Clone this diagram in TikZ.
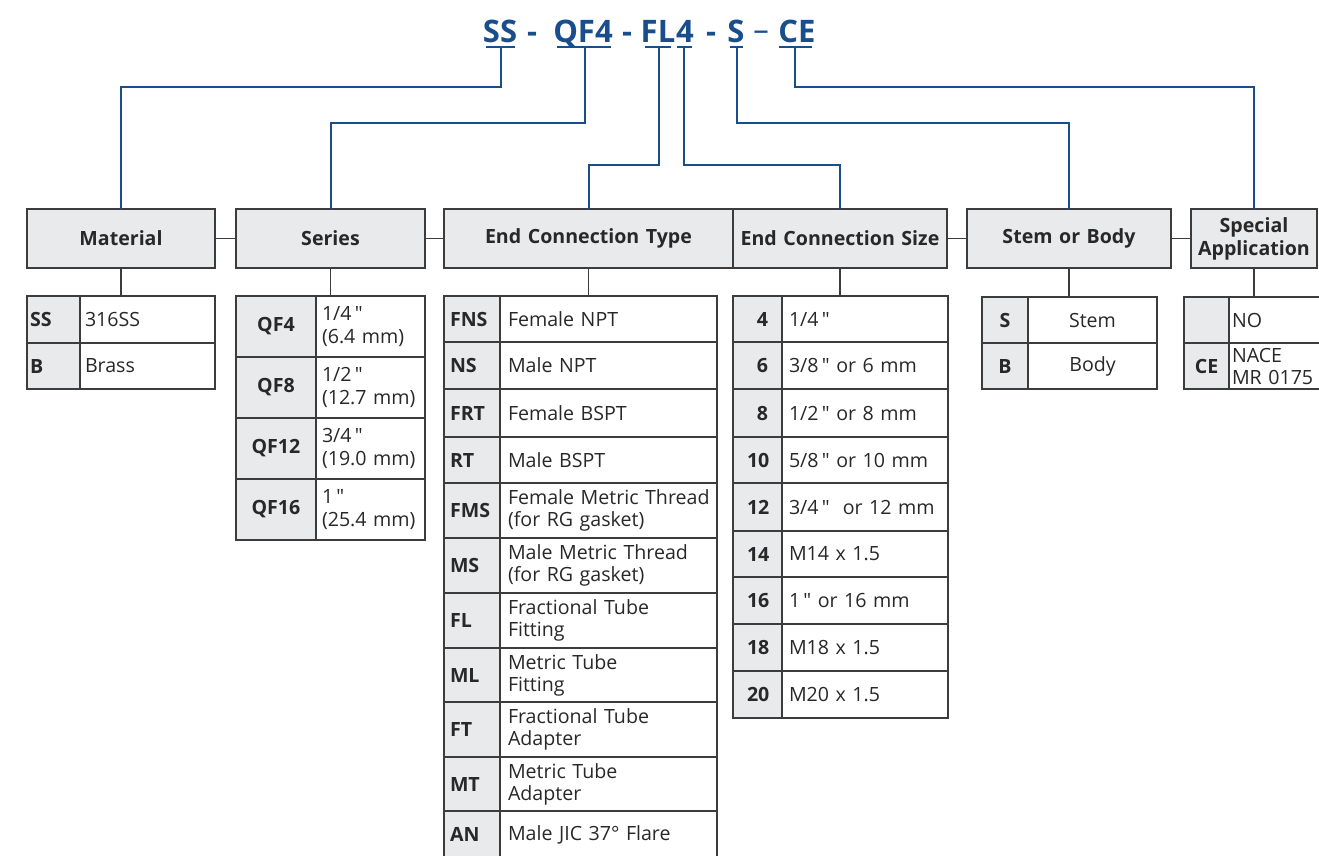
\documentclass[tikz,border=0pt]{standalone}
\usepackage{fontspec}
\setmainfont{Open Sans}[Ligatures=TeXOff]
\definecolor{titleblue}{RGB}{24,78,142}
\definecolor{boxline}{RGB}{60,60,60}
\definecolor{hdrfill}{RGB}{233,234,236}
\definecolor{txt}{RGB}{40,40,40}
\newcommand\cell[9]{%
  \pgfmathsetmacro\cw{#4-#2}\pgfmathsetmacro\ch{#5-#3}\pgfmathsetmacro\tw{#4-#2-2*#8}%
  \node[#6, minimum width=\cw pt, minimum height=\ch pt, text width=\tw pt,
        inner xsep=#8pt, inner ysep=0pt, align=#7, anchor=north west] (#1) at (#2,#3) {#9};}
\newcommand\qu{\,"}
\tikzset{
  hdr/.style={draw=boxline, fill=hdrfill, line width=1.3pt, outer sep=0pt, text=txt,
              font=\bfseries\fontsize{19.6}{23}\selectfont},
  code/.style={draw=boxline, fill=hdrfill, line width=1.3pt, outer sep=0pt, text=txt,
              font=\bfseries\fontsize{19.6}{22}\selectfont},
  desc/.style={draw=boxline, fill=white, line width=1.3pt, outer sep=0pt, text=txt,
              font=\fontsize{19.6}{22}\selectfont},
  ser/.style={desc, font=\fontsize{19.6}{23.5}\selectfont},
  ttl/.style={text=titleblue, font=\bfseries\fontsize{31}{34}\selectfont, inner sep=0pt, anchor=base},
  uline/.style={draw=titleblue, line width=2.6pt},
  blueline/.style={draw=titleblue, line width=2pt},
  grayline/.style={draw=boxline, line width=1.3pt},
}
\begin{document}
\begin{tikzpicture}[x=1pt,y=-1pt]
\useasboundingbox (0,0) rectangle (1319,855);
\clip (0,0) rectangle (1319,855);
\fill[white] (0,0) rectangle (1319,855);

% ---- title ----
\node[ttl] (tSS) at (500,42) {SS};
\node[ttl] (td1) at (532,42) {-};
\node[ttl] (tQF) at (583,42) {QF4};
\node[ttl] (td2) at (627,42) {-};
\node[ttl] (tFL) at (658,42) {FL};
\node[ttl] (t4) at (685,42) {4};
\node[ttl] (td3) at (711,42) {-};
\node[ttl] (tS) at (736,42) {S};
\node[ttl, font=\fontsize{31}{34}\selectfont] (td4) at (761,40) {–};
\node[ttl] (tCE) at (797,42) {CE};

\draw[uline] (486,47) -- (515,47);
\draw[uline] (557,47) -- (611,47);
\draw[uline] (645,47) -- (671,47);
\draw[uline] (677,47) -- (692,47);
\draw[uline] (730,47) -- (743,47);
\draw[uline] (779,47) -- (812,47);
\coordinate (uSS) at (501,47);
\coordinate (uQF) at (585,47);
\coordinate (uFL) at (659,47);
\coordinate (u4) at (684,47);
\coordinate (uS) at (737,47);
\coordinate (uCE) at (795,47);

% ---- headers ----
\cell{hmat}{27}{209}{215}{268}{hdr}{center}{2}{Material}
\cell{hser}{236}{209}{425}{268}{hdr}{center}{2}{Series}
\cell{hect}{444}{209}{733}{268}{hdr}{center}{2}{End Connection Type}
\cell{hecs}{733}{209}{947}{268}{hdr}{center}{2}{End Connection Size}
\cell{hstem}{967}{209}{1171}{268}{hdr}{center}{2}{Stem or Body}
\cell{hspec}{1191}{209}{1317}{268}{hdr}{center}{2}{Special\\Application}

% title connectors
\draw[blueline] (uSS) -- (uSS |- 0,87) -| (hmat.north);
\draw[blueline] (uQF) -- (uQF |- 0,123) -| (hser.north);
\draw[blueline] (uFL) -- (uFL |- 0,165) -| (hect.north);
\draw[blueline] (u4) -- (u4 |- 0,165) -| (hecs.north);
\draw[blueline] (uS) -- (uS |- 0,123) -| (hstem.north);
\draw[blueline] (uCE) -- (uCE |- 0,87) -| (hspec.north);

% header links
\draw[grayline] (hmat.east) -- (hser.west);
\draw[grayline] (hser.east) -- (hect.west);
\draw[grayline] (hecs.east) -- (hstem.west);
\draw[grayline] (hstem.east) -- (hspec.west);

% ---- Material ----
\cell{m1c}{27}{296}{80}{343}{code}{left}{3}{SS}
\cell{m1d}{80}{296}{215}{343}{desc}{left}{5}{316SS}
\cell{m2c}{27}{343}{80}{389}{code}{left}{3}{B}
\cell{m2d}{80}{343}{215}{389}{desc}{left}{5}{Brass}

% ---- Series ----
\cell{s1c}{236}{296}{316}{357}{code}{center}{3}{QF4}
\cell{s1d}{316}{296}{425}{357}{ser}{left}{6}{1/4\qu\\(6.4 mm)}
\cell{s2c}{236}{357}{316}{418}{code}{center}{3}{QF8}
\cell{s2d}{316}{357}{425}{418}{ser}{left}{6}{1/2\qu\\(12.7 mm)}
\cell{s3c}{236}{418}{316}{479}{code}{center}{3}{QF12}
\cell{s3d}{316}{418}{425}{479}{ser}{left}{6}{3/4\qu\\(19.0 mm)}
\cell{s4c}{236}{479}{316}{540}{code}{center}{3}{QF16}
\cell{s4d}{316}{479}{425}{540}{ser}{left}{6}{1\qu\\(25.4 mm)}

% ---- End Connection Type ----
\cell{e1c}{444}{296}{500}{342}{code}{left}{6}{FNS}
\cell{e1d}{500}{296}{717}{342}{desc}{left}{8}{Female NPT}
\cell{e2c}{444}{342}{500}{389}{code}{left}{6}{NS}
\cell{e2d}{500}{342}{717}{389}{desc}{left}{8}{Male NPT}
\cell{e3c}{444}{389}{500}{437}{code}{left}{6}{FRT}
\cell{e3d}{500}{389}{717}{437}{desc}{left}{8}{Female BSPT}
\cell{e4c}{444}{437}{500}{483}{code}{left}{6}{RT}
\cell{e4d}{500}{437}{717}{483}{desc}{left}{8}{Male BSPT}
\cell{e5c}{444}{483}{500}{538}{code}{left}{6}{FMS}
\cell{e5d}{500}{483}{717}{538}{desc}{left}{8}{\mbox{Female Metric Thread}\\(for RG gasket)}
\cell{e6c}{444}{538}{500}{593}{code}{left}{6}{MS}
\cell{e6d}{500}{538}{717}{593}{desc}{left}{8}{\mbox{Male Metric Thread}\\(for RG gasket)}
\cell{e7c}{444}{593}{500}{648}{code}{left}{6}{FL}
\cell{e7d}{500}{593}{717}{648}{desc}{left}{8}{Fractional Tube\\Fitting}
\cell{e8c}{444}{648}{500}{702}{code}{left}{6}{ML}
\cell{e8d}{500}{648}{717}{702}{desc}{left}{8}{Metric Tube\\Fitting}
\cell{e9c}{444}{702}{500}{757}{code}{left}{6}{FT}
\cell{e9d}{500}{702}{717}{757}{desc}{left}{8}{Fractional Tube\\Adapter}
\cell{e10c}{444}{757}{500}{811}{code}{left}{6}{MT}
\cell{e10d}{500}{757}{717}{811}{desc}{left}{8}{Metric Tube\\Adapter}
\cell{e11c}{444}{811}{500}{858}{code}{left}{6}{AN}
\cell{e11d}{500}{811}{717}{858}{desc}{left}{8}{Male JIC 37° Flare}

% ---- End Connection Size ----
\cell{z1c}{733}{296}{782}{342}{code}{right}{14}{4}
\cell{z1d}{782}{296}{948}{342}{desc}{left}{7}{1/4\qu}
\cell{z2c}{733}{342}{782}{389}{code}{right}{14}{6}
\cell{z2d}{782}{342}{948}{389}{desc}{left}{7}{3/8\qu{} or 6 mm}
\cell{z3c}{733}{389}{782}{437}{code}{right}{14}{8}
\cell{z3d}{782}{389}{948}{437}{desc}{left}{7}{1/2\qu{} or 8 mm}
\cell{z4c}{733}{437}{782}{483}{code}{right}{14}{10}
\cell{z4d}{782}{437}{948}{483}{desc}{left}{7}{5/8\qu{} or 10 mm}
\cell{z5c}{733}{483}{782}{531}{code}{right}{14}{12}
\cell{z5d}{782}{483}{948}{531}{desc}{left}{7}{3/4\qu\ \ or 12 mm}
\cell{z6c}{733}{531}{782}{577}{code}{right}{14}{14}
\cell{z6d}{782}{531}{948}{577}{desc}{left}{7}{M14 x 1.5}
\cell{z7c}{733}{577}{782}{624}{code}{right}{14}{16}
\cell{z7d}{782}{577}{948}{624}{desc}{left}{7}{1\qu{} or 16 mm}
\cell{z8c}{733}{624}{782}{671}{code}{right}{14}{18}
\cell{z8d}{782}{624}{948}{671}{desc}{left}{7}{M18 x 1.5}
\cell{z9c}{733}{671}{782}{718}{code}{right}{14}{20}
\cell{z9d}{782}{671}{948}{718}{desc}{left}{7}{M20 x 1.5}

% ---- Stem or Body ----
\cell{b1c}{982}{297}{1028}{343}{code}{center}{3}{S}
\cell{b1d}{1028}{297}{1157}{343}{desc}{center}{3}{Stem}
\cell{b2c}{982}{343}{1028}{389}{code}{center}{3}{B}
\cell{b2d}{1028}{343}{1157}{389}{desc}{center}{3}{Body}

% ---- Special Application ----
\cell{p1c}{1184}{297}{1229}{343}{code}{center}{3}{}
\cell{p1d}{1229}{297}{1340}{343}{desc}{left}{3}{NO}
\cell{p2c}{1184}{343}{1229}{389}{code}{center}{3}{CE}
\cell{p2d}{1229}{343}{1340}{389}{desc}{left}{3}{NACE\\MR 0175}

% header-to-table links
\draw[grayline] (hmat.south) -- (hmat.south |- m1c.north);
\draw[grayline] (hser.south) -- (hser.south |- s1c.north);
\draw[grayline] (hect.south) -- (hect.south |- e1c.north);
\draw[grayline] (hecs.south) -- (hecs.south |- z1c.north);
\draw[grayline] (hstem.south) -- (hstem.south |- b1c.north);
\draw[grayline] (hspec.south) -- (hspec.south |- p1c.north);
\end{tikzpicture}
\end{document}
